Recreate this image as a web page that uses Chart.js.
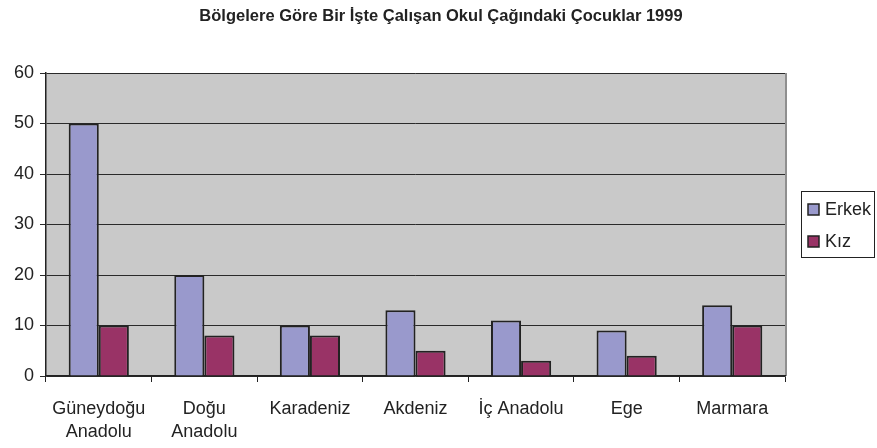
<!DOCTYPE html>
<html>
<head>
<meta charset="utf-8">
<script src="https://cdn.jsdelivr.net/npm/chart.js@4"></script>
<style>
  html, body { margin: 0; padding: 0; background: #fff; }
  #wrap { width: 877px; height: 448px; }
</style>
</head>
<body>
<div id="wrap"><canvas id="myChart" width="877" height="448"></canvas></div>
<script>
'use strict';

//========== Data ==========
let chartTitle = 'Bölgelere Göre Bir İşte Çalışan Okul Çağındaki Çocuklar 1999';
let regions = [['Güneydoğu', 'Anadolu'], ['Doğu', 'Anadolu'], 'Karadeniz', 'Akdeniz', 'İç Anadolu', 'Ege', 'Marmara'];
let seriesNames = ['Erkek', 'Kız'];
let erkekValues = [50, 20, 10, 13, 11, 9, 14];
let kizValues = [10, 8, 8, 5, 3, 4, 10];
let yTicks = [0, 10, 20, 30, 40, 50, 60];

//========== Colors ==========
let erkekColor = '#9999CC';
let kizColor = '#993366';
let plotGray = '#C9C9C9';
let fontFamily = '"Liberation Sans", Arial, sans-serif';

let ctx = document.getElementById('myChart').getContext('2d');

// plot area background and right edge
let plotBackground = {
  id: 'plotBackground',
  beforeDraw(chart) {
    let a = chart.chartArea;
    let c = chart.ctx;
    c.save();
    c.fillStyle = plotGray;
    c.fillRect(a.left, a.top, a.right - a.left, a.bottom - a.top);
    c.strokeStyle = '#8f8f8f';
    c.lineWidth = 2;
    c.beginPath();
    c.moveTo(a.right + 1, a.top);
    c.lineTo(a.right + 1, a.bottom);
    c.stroke();
    c.restore();
  }
};

// title and boxed legend drawn on top
let titleAndLegend = {
  id: 'titleAndLegend',
  afterDraw(chart) {
    let c = chart.ctx;
    c.save();
    c.fillStyle = '#222';
    c.font = 'bold 16.5px ' + fontFamily;
    c.textAlign = 'center';
    c.textBaseline = 'middle';
    c.fillText(chartTitle, 441, 16);

    // legend box
    let lx = 801, ly = 191, lw = 73, lh = 66;
    c.fillStyle = '#fff';
    c.fillRect(lx, ly, lw, lh);
    c.strokeStyle = '#222';
    c.lineWidth = 1;
    c.strokeRect(lx + 0.5, ly + 0.5, lw, lh);

    c.font = '18px ' + fontFamily;
    c.textAlign = 'left';
    chart.data.datasets.forEach(function (ds, i) {
      let cy = ly + 18 + i * 32;
      c.fillStyle = ds.backgroundColor;
      c.fillRect(lx + 7, cy - 5, 11, 11);
      c.strokeStyle = '#222';
      c.lineWidth = 1.5;
      c.strokeRect(lx + 7, cy - 5, 11, 11);
      c.fillStyle = '#222';
      c.fillText(ds.label, lx + 24, cy + 1);
    });
    c.restore();
  }
};

let myChartObj = {
  type: 'bar',
  data: {
    labels: regions,
    datasets: [{
      label: seriesNames[0],
      data: erkekValues,
      backgroundColor: erkekColor,
      borderColor: '#222',
      borderWidth: 2,
      borderSkipped: 'bottom',
      categoryPercentage: 0.57,
      barPercentage: 1.0
    },
    {
      label: seriesNames[1],
      data: kizValues,
      backgroundColor: kizColor,
      borderColor: '#222',
      borderWidth: 2,
      borderSkipped: 'bottom',
      categoryPercentage: 0.57,
      barPercentage: 1.0
    }]
  },
  options: {
    responsive: false,
    animation: false,
    layout: {
      padding: { top: 73, right: 92, bottom: 0, left: 0 }
    },
    plugins: {
      legend: { display: false },
      title: { display: false },
      tooltip: { enabled: false }
    },
    scales: {
      x: {
        offset: true,
        grid: {
          offset: true,
          drawOnChartArea: false,
          drawTicks: true,
          tickLength: 6,
          color: '#222'
        },
        border: { color: '#222', width: 1.5 },
        ticks: {
          color: '#222',
          padding: 15,
          maxRotation: 0,
          autoSkip: false,
          font: { family: fontFamily, size: 18, lineHeight: 1.3 }
        },
        afterFit(scale) { scale.height = 72; }
      },
      y: {
        min: 0,
        max: 60,
        afterBuildTicks(scale) {
          scale.ticks = yTicks.map(function (v) { return { value: v }; });
        },
        grid: {
          color: '#2a2a2a',
          lineWidth: 1,
          drawTicks: true,
          tickLength: 6
        },
        border: { color: '#222', width: 1.5 },
        ticks: {
          color: '#222',
          padding: 6,
          font: { family: fontFamily, size: 18 }
        },
        afterFit(scale) { scale.width = 46; }
      }
    }
  },
  plugins: [plotBackground, titleAndLegend]
};

let myChart = new Chart(ctx, myChartObj);
</script>
</body>
</html>
